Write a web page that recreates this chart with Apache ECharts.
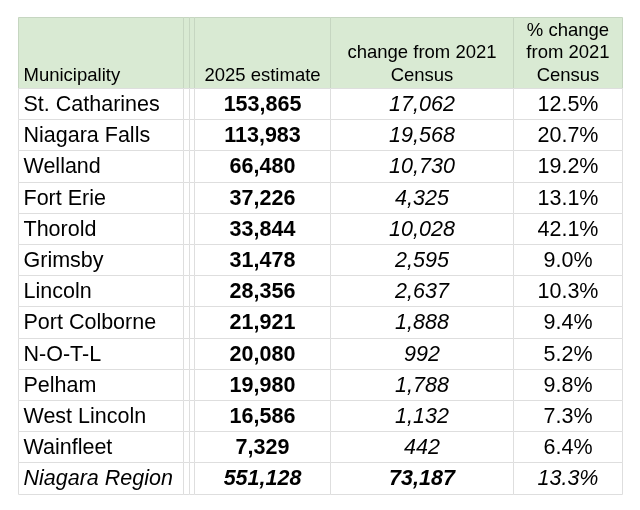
<html>
  <head>
    <meta charset="utf-8" />
    <script src="https://cdn.jsdelivr.net/npm/echarts@6/dist/echarts.min.js"></script>
  </head>
  <body>
    <style>
      html,
      body,
      #main {
        width: 100%;
        height: 100%;
        margin: 0;
        background: #fff;
      }
    </style>
    <div id="main"></div>
    <script>
      var chart = echarts.init(document.getElementById('main'));

      // table content
      var headers = ['Municipality', '', '', '2025 estimate', 'change from 2021\nCensus', '% change\nfrom 2021\nCensus'];
      var municipalities = ['St. Catharines', 'Niagara Falls', 'Welland', 'Fort Erie', 'Thorold', 'Grimsby',
        'Lincoln', 'Port Colborne', 'N-O-T-L', 'Pelham', 'West Lincoln', 'Wainfleet', 'Niagara Region'];
      var estimates = [153865, 113983, 66480, 37226, 33844, 31478, 28356, 21921, 20080, 19980, 16586, 7329, 551128];
      var changes = [17062, 19568, 10730, 4325, 10028, 2595, 2637, 1888, 992, 1788, 1132, 442, 73187];
      var pctChanges = [12.5, 20.7, 19.2, 13.1, 42.1, 9.0, 10.3, 9.4, 5.2, 9.8, 7.3, 6.4, 13.3];
      var totalRow = municipalities.length - 1;

      // column edges in table units (two narrow hidden columns after the first)
      var colEdges = [0, 165, 171, 176, 312, 495, 604];
      var FONT = "'Liberation Sans', Arial, sans-serif";

      function fmt(n) {
        return n.toLocaleString('en-US');
      }

      function cellText(c, r) {
        if (c === 0) return municipalities[r];
        if (c === 3) return fmt(estimates[r]);
        if (c === 4) return fmt(changes[r]);
        if (c === 5) return pctChanges[r].toFixed(1) + '%';
        return '';
      }

      function cellFont(c, r) {
        var total = r === totalRow;
        var italic = total || c === 4;
        var bold = c === 3 || (total && c === 4);
        return (italic ? 'italic ' : '') + (bold ? 'bold ' : '') + '21.5px ' + FONT;
      }

      function px(v) {
        return Math.round(v) + 0.5;
      }

      var bodyData = [];
      var headData = [];
      for (var c = 0; c < colEdges.length - 1; c++) {
        headData.push([colEdges[c], colEdges[c + 1], 0, c]);
        for (var r = 0; r < municipalities.length; r++) {
          bodyData.push([colEdges[c], colEdges[c + 1], r, c]);
        }
      }

      function makeRender(isHead) {
        return function (params, api) {
          var x0 = api.value(0), x1 = api.value(1), r = api.value(2), c = api.value(3);
          var p0 = api.coord([x0, r]);
          var p1 = api.coord([x1, r]);
          var h = api.size([0, 1])[1];
          var left = px(p0[0]), right = px(p1[0]);
          var top = px(p0[1] - h / 2), bottom = px(p0[1] + h / 2);
          var text = isHead ? headers[c] : cellText(c, r);
          var align = c === 0 ? 'left' : 'center';
          var tx = c === 0 ? left + 5 : (left + right) / 2;
          var children = [{
            type: 'rect',
            shape: { x: left, y: top, width: right - left, height: bottom - top },
            style: {
              fill: isHead ? '#d9ead3' : '#ffffff',
              stroke: isHead ? '#c6d6c1' : '#dedede',
              lineWidth: 1
            }
          }];
          if (text) {
            children.push({
              type: 'text',
              style: isHead ? {
                text: text, x: tx, y: bottom - 1.5,
                align: align, verticalAlign: 'bottom',
                font: '18.5px ' + FONT, lineHeight: 22.5, fill: '#000'
              } : {
                text: text, x: tx, y: (top + bottom) / 2 + 1,
                align: align, verticalAlign: 'middle',
                font: cellFont(c, r), fill: '#000'
              }
            });
          }
          return { type: 'group', children: children };
        };
      }

      var xAxisBase = { type: 'value', min: 0, max: colEdges[colEdges.length - 1], show: false };

      var option = {
        animation: false,
        grid: [
          { left: 18, right: 18, top: 17, height: 71 },
          { left: 18, right: 18, top: 88, bottom: 16.4 }
        ],
        xAxis: [
          Object.assign({ gridIndex: 0 }, xAxisBase),
          Object.assign({ gridIndex: 1 }, xAxisBase)
        ],
        yAxis: [
          { type: 'category', gridIndex: 0, data: ['header'], show: false },
          { type: 'category', gridIndex: 1, data: municipalities, inverse: true, show: false }
        ],
        series: [
          {
            type: 'custom', xAxisIndex: 0, yAxisIndex: 0,
            renderItem: makeRender(true), data: headData, silent: true
          },
          {
            type: 'custom', xAxisIndex: 1, yAxisIndex: 1,
            renderItem: makeRender(false), data: bodyData, silent: true
          }
        ]
      };

      chart.setOption(option);

      window.onresize = function () {
        chart.resize();
      };
    </script>
  </body>
</html>
